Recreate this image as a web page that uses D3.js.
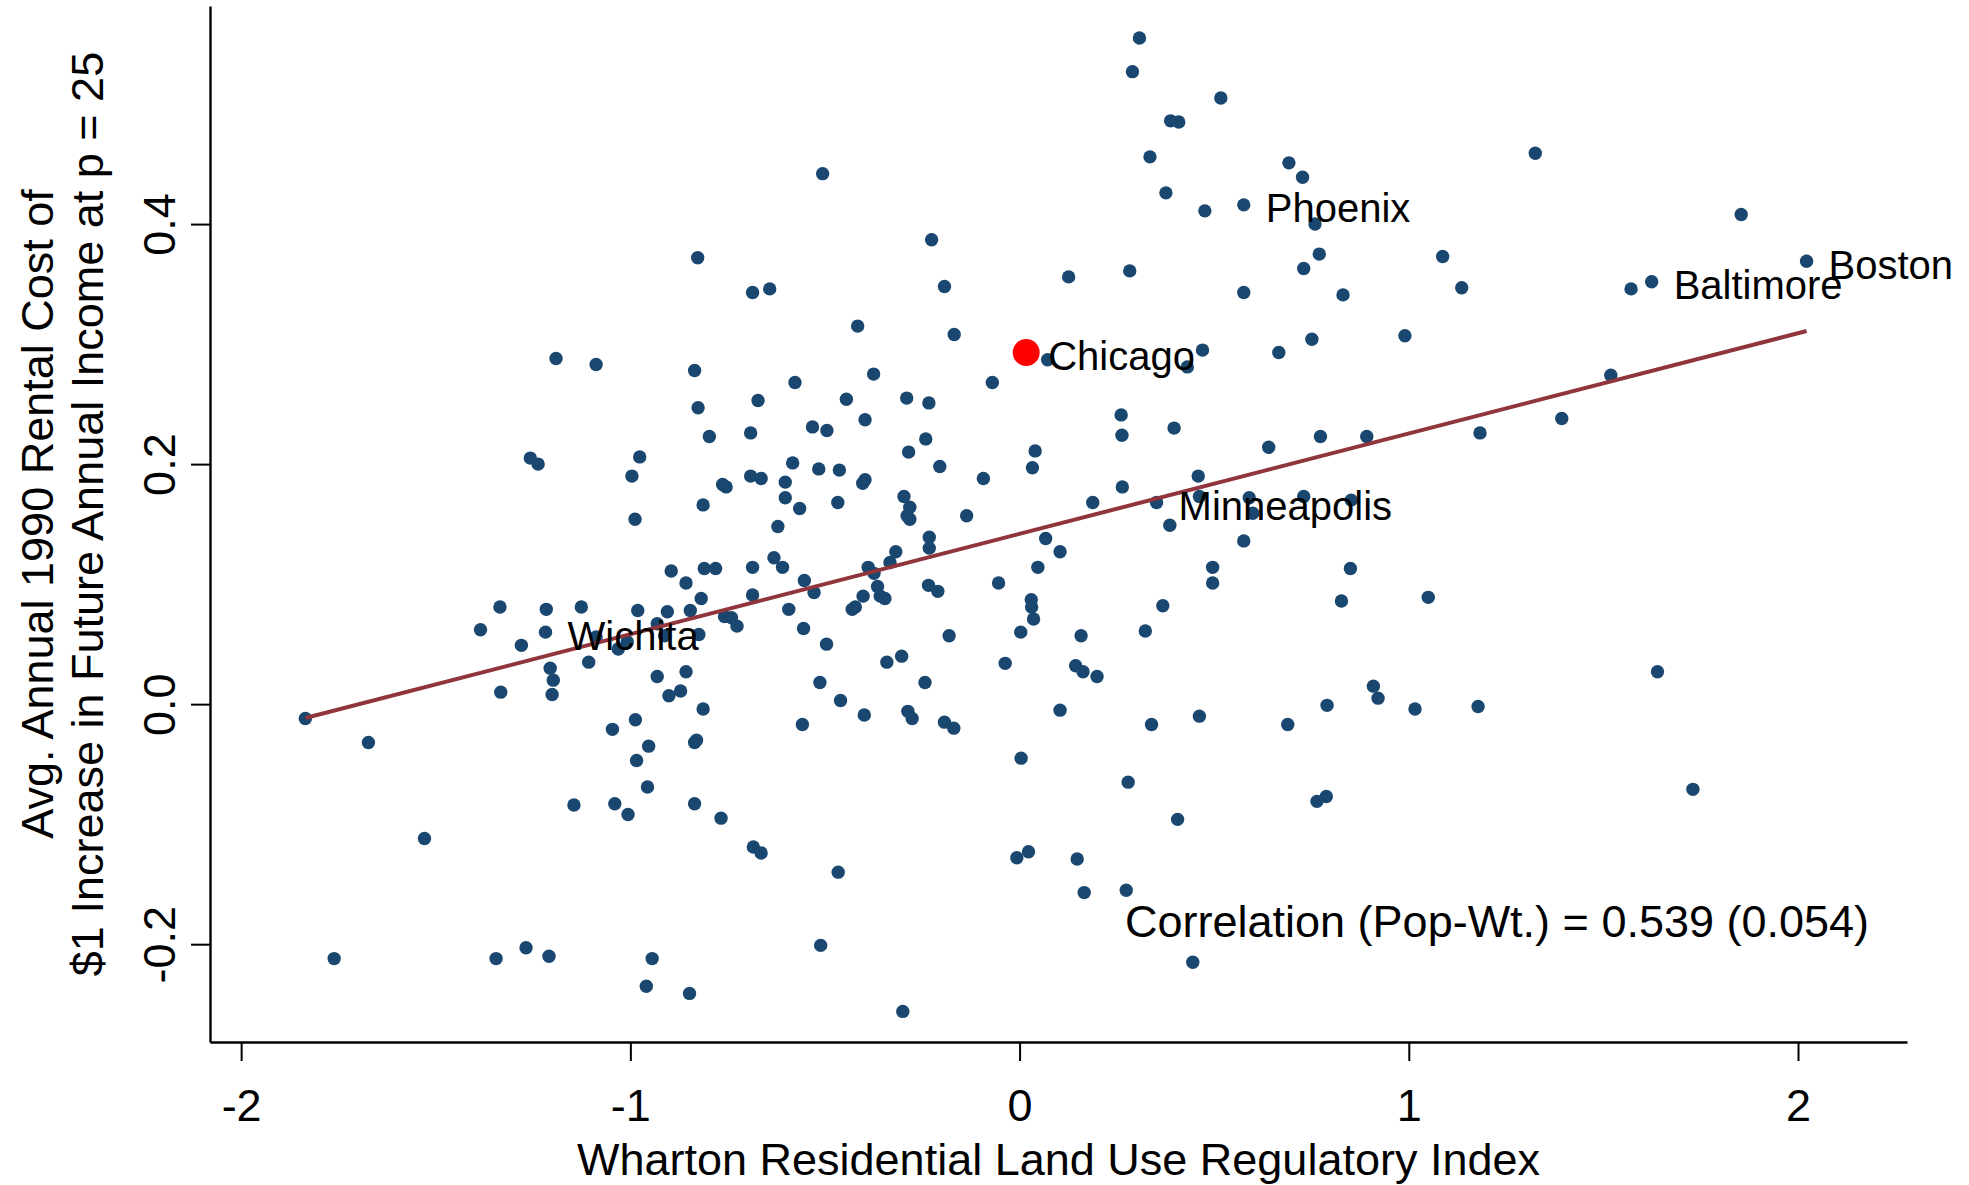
<!DOCTYPE html>
<html>
<head>
<meta charset="utf-8">
<script src="https://cdn.jsdelivr.net/npm/d3@7"></script>
<style>
  html, body { margin: 0; padding: 0; background: #fff; }
  svg { display: block; font-family: "Liberation Sans", Arial, Helvetica, sans-serif; }
</style>
</head>
<body>
<svg id="chart" width="1969" height="1185"></svg>
<script>
// Wharton Residential Land Use Regulatory Index, one value per commuting zone
const regIndex = [
  -1.191,-1.088,-0.827,-0.686,-0.642,-0.835,-0.672,-0.826,-0.797,-0.691,
  -1.257,-1.237,-0.976,-0.996,-0.691,-0.664,-0.763,-0.754,-0.813,-0.988,
  -0.895,-0.810,-0.781,-0.686,-0.857,-0.818,-0.686,-1.335,-1.216,-1.126,
  -0.981,-0.905,-0.846,-0.758,-0.740,-0.726,-1.385,-0.931,-0.824,-1.008,
  -1.088,-0.912,-1.031,-1.280,-1.107,-1.206,-1.198,-0.931,-0.857,-1.333,
  -1.201,-0.901,-0.871,-0.813,
  -1.835,-1.673,-1.529,-1.761,-1.345,-1.268,-1.209,-1.145,-1.046,-0.987,
  -0.953,-0.984,-0.956,-1.040,-1.006,-0.835,-0.767,-0.835,-0.830,-0.684,
  -0.664,-0.944,-0.959,-0.848,
  0.308,0.290,0.517,0.388,0.409,0.335,0.692,0.727,0.376,0.476,
  0.759,0.770,0.730,-0.506,-0.226,-0.193,0.126,0.283,0.576,0.831,
  -0.416,-0.168,0.470,0.666,0.751,0.072,0.431,1.325,1.854,1.087,
  1.136,1.571,0.990,
  0.892,1.183,1.393,1.519,0.852,0.850,0.827,1.050,1.639,0.909,
  0.921,1.016,1.178,1.730,
  -0.577,-0.375,-0.070,-0.445,-0.290,-0.233,-0.397,-0.532,-0.495,-0.241,
  0.261,0.263,0.397,0.640,0.773,0.040,0.033,-0.583,-0.516,-0.463,
  -0.285,-0.205,-0.397,-0.403,-0.093,-0.602,-0.602,-0.565,-0.467,-0.297,
  -0.282,-0.289,-0.282,-0.136,0.264,0.188,0.459,0.462,0.590,0.730,
  0.599,0.386,0.576,-0.621,-0.232,-0.232,0.067,0.104,-0.318,-0.631,
  -0.609,-0.333,-0.389,-0.374,0.047,0.496,-0.553,-0.054,0.496,-0.528,
  -0.365,-0.234,-0.210,-0.402,-0.358,-0.346,-0.593,-0.422,-0.430,0.030,
  0.031,0.036,0.368,-0.555,-0.496,-0.181,0.003,0.158,0.323,-0.341,
  -0.303,-0.037,0.144,0.163,0.199,-0.513,-0.243,-0.460,0.790,
  -0.558,-0.399,-0.287,-0.276,-0.193,-0.169,0.104,0.339,0.462,0.689,
  0.004,0.279,0.764,0.788,0.406,-0.007,0.023,0.148,0.166,0.274,
  -0.466,-0.511,0.445,-0.300
];

// Avg. annual 1990 rental cost of $1 increase in future income at p = 25
const rentCost = [
  0.288,0.283,0.372,0.343,0.346,0.278,0.253,0.247,0.223,0.226,
  0.205,0.200,0.206,0.190,0.190,0.188,0.183,0.181,0.166,0.154,
  0.111,0.113,0.113,0.114,0.101,0.088,0.091,0.081,0.079,0.081,
  0.078,0.077,0.078,0.073,0.072,0.065,0.062,0.067,0.058,0.052,
  0.056,0.057,0.046,0.049,0.035,0.030,0.020,0.023,0.027,0.010,
  0.008,0.007,0.011,-0.004,
  -0.012,-0.032,-0.112,-0.212,-0.212,-0.203,-0.210,-0.084,-0.021,-0.013,
  -0.035,-0.047,-0.069,-0.083,-0.092,-0.083,-0.095,-0.032,-0.030,-0.119,
  -0.124,-0.212,-0.235,-0.241,
  0.555,0.527,0.505,0.486,0.485,0.456,0.451,0.439,0.426,0.411,
  0.400,0.375,0.363,0.442,0.387,0.348,0.356,0.361,0.343,0.341,
  0.315,0.308,0.295,0.293,0.304,0.287,0.281,0.459,0.408,0.373,
  0.347,0.346,0.307,
  0.223,0.226,0.238,0.274,0.170,0.113,0.086,0.089,0.027,0.015,
  0.005,-0.004,-0.002,-0.071,
  0.268,0.275,0.268,0.254,0.255,0.251,0.237,0.231,0.228,0.221,
  0.241,0.224,0.230,0.214,0.223,0.211,0.197,0.201,0.196,0.195,
  0.210,0.198,0.187,0.184,0.188,0.185,0.172,0.163,0.168,0.173,
  0.164,0.157,0.154,0.157,0.181,0.168,0.190,0.173,0.172,0.173,
  0.159,0.149,0.136,0.148,0.139,0.130,0.138,0.127,0.127,0.122,
  0.114,0.118,0.114,0.109,0.114,0.114,0.103,0.101,0.101,0.093,
  0.098,0.099,0.094,0.090,0.090,0.088,0.079,0.081,0.079,0.087,
  0.081,0.071,0.082,0.063,0.050,0.057,0.060,0.057,0.061,0.035,
  0.040,0.034,0.032,0.027,0.023,0.018,0.018,0.003,-0.001,
  -0.017,-0.009,-0.006,-0.012,-0.015,-0.020,-0.005,-0.017,-0.010,-0.017,
  -0.045,-0.065,-0.081,-0.077,-0.096,-0.128,-0.123,-0.129,-0.157,-0.155,
  -0.140,-0.201,-0.215,-0.256
];

// Named commuting zones
const cityNames = ["Phoenix", "Chicago", "Baltimore", "Boston", "Minneapolis", "Wichita"];
const cityIndex = [0.576, 0.017, 1.624, 2.022, 0.352, -1.218];
const cityCost  = [0.416, 0.293, 0.352, 0.369, 0.168, 0.060];
const highlightCity = "Chicago";

// Population-weighted linear fit and correlation
const fitIntercept = 0.1419;
const fitSlope = 0.0836;
const corrValue = 0.539;
const corrSE = 0.054;

const xTicks = [-2, -1, 0, 1, 2];
const yTicks = [-0.2, 0, 0.2, 0.4];

const xTitle = "Wharton Residential Land Use Regulatory Index";
const yTitleLines = ["Avg. Annual 1990 Rental Cost of", "$1 Increase in Future Annual Income at p = 25"];

// ---- layout ----
const plot = { left: 210, right: 1907, top: 6, bottom: 1042 };
const xDomain = [-2.08, 2.28];
const yDomain = [-0.2815, 0.5817];
const NAVY = "#1a476f", MAROON = "#90353b";
const FS = 45;

const svg = d3.select("#chart");
svg.append("rect").attr("width", 1969).attr("height", 1185).attr("fill", "#fff");

const x = d3.scaleLinear().domain(xDomain).range([plot.left, plot.right]);
const y = d3.scaleLinear().domain(yDomain).range([plot.bottom, plot.top]);

const fmtHyphen = s => s.replace("\u2212", "-");

// x axis
const xAxis = svg.append("g")
  .attr("transform", `translate(0,${plot.bottom})`)
  .call(d3.axisBottom(x).tickValues(xTicks).tickSize(19).tickSizeOuter(0)
    .tickFormat(d => fmtHyphen(d3.format("d")(d))));
xAxis.select(".domain").attr("stroke", "#000").attr("stroke-width", 2.4);
xAxis.selectAll(".tick line").attr("stroke", "#000").attr("stroke-width", 2);
xAxis.selectAll(".tick text")
  .attr("y", 79).attr("dy", null)
  .attr("font-size", FS).attr("fill", "#000")
  .attr("font-family", "Liberation Sans, Arial, sans-serif");

// y axis with rotated labels
const yAxis = svg.append("g")
  .attr("transform", `translate(${plot.left},0)`)
  .call(d3.axisLeft(y).tickValues(yTicks).tickSize(19).tickSizeOuter(0)
    .tickFormat(d => fmtHyphen(d3.format(".1f")(d))));
yAxis.select(".domain").attr("stroke", "#000").attr("stroke-width", 2.4);
yAxis.selectAll(".tick line").attr("stroke", "#000").attr("stroke-width", 2);
yAxis.selectAll(".tick text")
  .attr("x", null).attr("y", null).attr("dy", null)
  .attr("transform", "translate(-35,0) rotate(-90)")
  .attr("text-anchor", "middle")
  .attr("font-size", FS).attr("fill", "#000")
  .attr("font-family", "Liberation Sans, Arial, sans-serif");

// axis titles
svg.append("text")
  .attr("x", (plot.left + plot.right) / 2).attr("y", 1175)
  .attr("text-anchor", "middle").attr("font-size", FS).attr("fill", "#000")
  .text(xTitle);

svg.append("g")
  .attr("transform", "translate(0,514) rotate(-90)")
  .selectAll("text").data(yTitleLines).join("text")
  .attr("x", 0).attr("y", (d, i) => 53 + i * 50)
  .attr("text-anchor", "middle").attr("font-size", FS).attr("fill", "#000")
  .text(d => d);

// scatter points
const points = regIndex.map((v, i) => ({ x: v, y: rentCost[i] }));
const cities = cityNames.map((n, i) => ({ name: n, x: cityIndex[i], y: cityCost[i] }));
const plain = points.concat(cities.filter(c => c.name !== highlightCity));

svg.append("g").selectAll("circle").data(plain).join("circle")
  .attr("cx", d => x(d.x)).attr("cy", d => y(d.y))
  .attr("r", 6.7).attr("fill", NAVY);

// fitted line over the observed range
const allX = plain.map(d => d.x).concat(cities.map(c => c.x));
const [xMin, xMax] = d3.extent(allX);
svg.append("line")
  .attr("x1", x(xMin)).attr("y1", y(fitIntercept + fitSlope * xMin))
  .attr("x2", x(xMax)).attr("y2", y(fitIntercept + fitSlope * xMax))
  .attr("stroke", MAROON).attr("stroke-width", 4);

// highlighted city
svg.append("g").selectAll("circle").data(cities.filter(c => c.name === highlightCity)).join("circle")
  .attr("cx", d => x(d.x)).attr("cy", d => y(d.y))
  .attr("r", 13.5).attr("fill", "#ff0000");

// city labels
svg.append("g").selectAll("text").data(cities).join("text")
  .attr("x", d => x(d.x) + 22).attr("y", d => y(d.y) + 17.5)
  .attr("font-size", 40).attr("fill", "#000")
  .text(d => d.name);

// correlation note
svg.append("text")
  .attr("x", 1125).attr("y", 937)
  .attr("font-size", FS).attr("fill", "#000")
  .text(`Correlation (Pop-Wt.) = ${corrValue.toFixed(3)} (${corrSE.toFixed(3)})`);
</script>
</body>
</html>
